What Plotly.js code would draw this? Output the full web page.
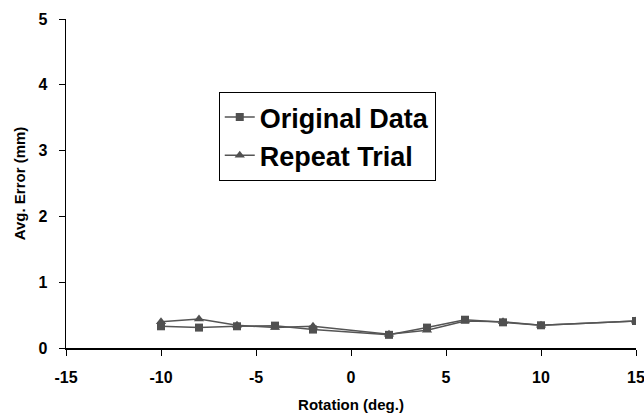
<!DOCTYPE html>
<html><head><meta charset="utf-8">
<script src="https://cdn.plot.ly/plotly-3.0.1.min.js"></script>
<style>html,body{margin:0;padding:0;background:#fff}#c{width:644px;height:416px}</style>
</head><body><div id="c"></div>
<script>
const rotation = [-10, -8, -6, -4, -2, 2, 4, 6, 8, 10, 15];
const originalData = [0.33, 0.31, 0.33, 0.34, 0.28, 0.20, 0.31, 0.43, 0.39, 0.345, 0.41];
const repeatTrial = [0.40, 0.44, 0.345, 0.31, 0.33, 0.21, 0.27, 0.41, 0.40, 0.345, 0.41];
const xTicks = [-15, -10, -5, 0, 5, 10, 15];
const yTicks = [0, 1, 2, 3, 4, 5];

const F = 'Liberation Sans, Arial, sans-serif';
const traces = [
  {x: rotation, y: originalData, name: 'Original Data', mode: 'lines+markers', type: 'scatter', legendgroup: 'a',
   line: {color: '#555555', width: 1.5}, marker: {symbol: 'square', size: 8, color: '#505050'}},
  {x: rotation, y: repeatTrial, name: 'Repeat Trial', mode: 'lines+markers', type: 'scatter', legendgroup: 'b',
   line: {color: '#555555', width: 1.5}, marker: {symbol: 'triangle-up', size: 9, color: '#505050'}}
];
const layout = {
  width: 644, height: 416,
  margin: {l: 66, r: 8, t: 19, b: 68},
  paper_bgcolor: '#fff', plot_bgcolor: '#fff',
  showlegend: true,
  legend: {x: 0.268, y: 0.778, xanchor: 'left', yanchor: 'top', bgcolor: '#fff',
           bordercolor: '#000', borderwidth: 1, font: {family: F, size: 27, color: '#000', weight: 'bold'},
           traceorder: 'grouped', tracegroupgap: 0},
  xaxis: {range: [-15, 15], tickvals: xTicks, ticktext: xTicks.map(String), showgrid: false, zeroline: false,
          showline: true, linecolor: '#000', linewidth: 1.5, ticks: 'outside', ticklen: 6, tickcolor: '#000',
          ticklabelstandoff: 8, ticklabeloverflow: 'allow',
          tickfont: {family: F, size: 16, color: '#000', weight: 'bold'},
          title: {text: 'Rotation (deg.)', font: {family: F, size: 15, color: '#000', weight: 'bold'}, standoff: 15}},
  yaxis: {range: [0, 5], tickvals: yTicks, ticktext: yTicks.map(String), showgrid: false, zeroline: false,
          showline: true, linecolor: '#000', linewidth: 1.5, ticks: 'outside', ticklen: 6, tickcolor: '#000',
          ticklabelstandoff: 8, ticklabeloverflow: 'allow',
          tickfont: {family: F, size: 16, color: '#000', weight: 'bold'},
          title: {text: 'Avg. Error (mm)', font: {family: F, size: 15, color: '#000', weight: 'bold'}, standoff: 9}}
};
Plotly.newPlot('c', traces, layout, {displayModeBar: false, staticPlot: true});
</script></body></html>
